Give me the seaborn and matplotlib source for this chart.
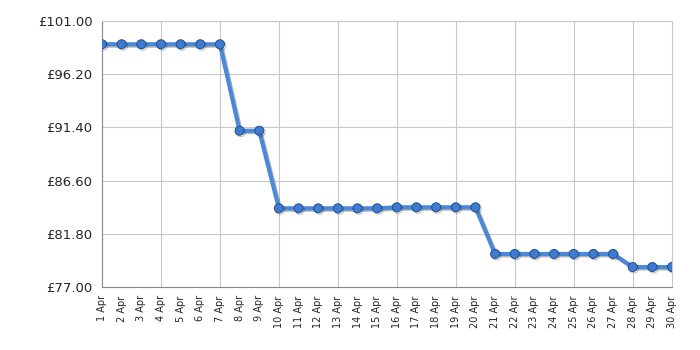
import matplotlib
matplotlib.use("Agg")
import matplotlib.pyplot as plt
import matplotlib.patheffects as pe
import seaborn as sns
import pandas as pd

days = list(range(1, 31))
labels = [f"{d} Apr" for d in days]
prices = [98.90, 98.90, 98.90, 98.90, 98.90, 98.90, 98.90,
          91.10, 91.10,
          84.10, 84.10, 84.10, 84.10, 84.10, 84.10,
          84.19, 84.19, 84.19, 84.19, 84.19,
          79.98, 79.98, 79.98, 79.98, 79.98, 79.98, 79.98,
          78.80, 78.80, 78.80]
yticks = [77.00, 81.80, 86.60, 91.40, 96.20, 101.00]

df = pd.DataFrame({"day": days, "price": prices})

sns.set_style("white")
plt.rcParams['font.family'] = ['DejaVu Sans']

fig = plt.figure(figsize=(7, 3.5), dpi=100)
ax = fig.add_axes([102/700, 1-287/350, 570/700, 266/350])

shadow = [pe.SimpleLineShadow(offset=(1.0, -1.0), shadow_color="#333333", alpha=0.35), pe.Normal()]
sns.lineplot(data=df, x="day", y="price", ax=ax, color="#4a88da", linewidth=3,
             marker="o", markersize=6.5, markerfacecolor="#3f7bd0",
             markeredgecolor="#1f4f8f", markeredgewidth=0.7, path_effects=shadow, zorder=3)

ax.set_xlim(1, 30)
ax.set_ylim(77, 101)
ax.set_yticks(yticks)
ax.set_yticklabels([f"£{v:.2f}" for v in yticks], fontsize=9.5)
ax.xaxis.remove_overlapping_locs = False
ax.set_xticks(days)
ax.set_xticklabels(labels, rotation=90, fontsize=7)
ax.tick_params(axis="x", which="major", length=0, pad=6)
ax.set_xticks(days[::3], minor=True)
ax.tick_params(axis="x", which="minor", length=5, color="#333333")
ax.tick_params(axis="y", length=5, color="#333333", pad=2)
ax.grid(False)
ax.grid(True, axis="x", which="minor", color="#c8c8c8", linewidth=0.8)
ax.grid(True, axis="y", which="major", color="#c8c8c8", linewidth=0.8)
ax.set_axisbelow(True)
for s in ["left", "bottom"]:
    ax.spines[s].set_color("#888888")
for s in ["top", "right"]:
    ax.spines[s].set_color("#c8c8c8")
ax.set_xlabel("")
ax.set_ylabel("")

fig.savefig("out.png", dpi=100)
